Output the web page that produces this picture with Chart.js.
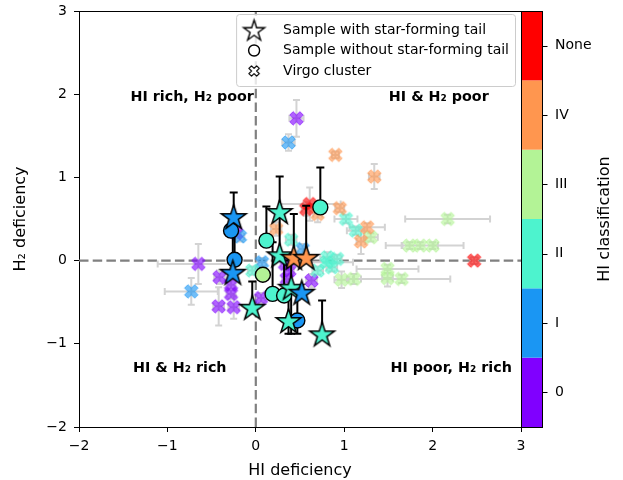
<!DOCTYPE html>
<html><head><meta charset="utf-8">
<script src="https://cdn.jsdelivr.net/npm/chart.js@4.4.1/dist/chart.umd.min.js"></script>
<style>html,body{margin:0;padding:0;background:#fff}canvas{display:block}</style>
</head><body>
<canvas id="c" width="623" height="480"></canvas>
<script>
// ---------- data ----------
const classLabels = ['0', 'I', 'II', 'III', 'IV', 'None'];
const classColors = ['#8000ff', '#1a96f3', '#4df3ce', '#b3f396', '#ff964f', '#ff0000'];
const xTicks = [-2, -1, 0, 1, 2, 3];
const yTicks = [-2, -1, 0, 1, 2, 3];

// sample with star-forming tail (stars)
const starX     = [-0.25, -0.26, 0.27, 0.27, 0.43, 0.57, -0.04, 0.40, 0.52, 0.37, 0.75];
const starY     = [0.53, -0.14, 0.59, 0.07, 0.04, 0.04, -0.56, -0.32, -0.38, -0.72, -0.88];
const starYLo   = [0.53, -0.14, 0.59, 0.07, 0.04, 0.04, -0.56, -0.88, -0.38, -0.88, -0.88];
const starYHi   = [0.82, 0.36, 1.01, 0.59, 0.56, 0.66, -0.25, 0.04, -0.38, -0.32, -0.48];
const starClass = [1, 1, 2, 2, 4, 4, 2, 2, 1, 2, 2];

// sample without star-forming tail (circles)
const circX     = [-0.28, -0.24, 0.12, 0.73, 0.08, 0.19, 0.32, 0.47];
const circY     = [0.36, 0.01, 0.24, 0.64, -0.17, -0.40, -0.42, -0.72];
const circYLo   = [0.36, 0.01, 0.24, 0.64, -0.17, -0.40, -0.42, -0.88];
const circYHi   = [0.53, 0.36, 0.65, 1.12, -0.17, 0.22, 0.00, -0.30];
const circClass = [1, 1, 2, 2, 3, 2, 2, 1];

// Virgo cluster (X markers)
const virgoX = [0.46, -0.65, -0.41, -0.28, -0.28, -0.42, -0.25, 0.06, 0.38, 0.33, 0.63, 0.35, -0.22,
                0.37, -0.18, -0.73, 0.07, 0.53,
                1.02, 1.13, 0.40, 0.81, 0.80, 0.86, 0.70, -0.04, 0.92,
                2.17, 1.74, 1.86, 2.00, 1.49, 1.49, 1.65, 0.97, 1.11, 1.30,
                0.90, 1.34, 0.70, 0.95, 1.26, 1.19, 0.23,
                0.61, 0.57, 2.47];
const virgoY = [1.71, -0.04, -0.20, -0.29, -0.40, -0.55, -0.56, -0.45, -0.12, -0.04, -0.24, -0.22, 0.33,
                1.42, 0.29, -0.37, -0.02, 0.14,
                0.50, 0.36, 0.25, 0.04, -0.02, -0.08, -0.12, -0.12, 0.02,
                0.50, 0.18, 0.18, 0.18, -0.10, -0.21, -0.22, -0.23, -0.22, 0.28,
                1.27, 1.01, 0.56, 0.63, 0.40, 0.23, 0.38,
                0.68, 0.62, 0.00];
const virgoXErr = [0.08, 0.46, 0.06, 0.05, 0.05, 0.06, 0.06, 0.05, 0.05, 0.05, 0.06, 0.05, 0.05,
                   0.07, 0.05, 0.30, 0.05, 0.05,
                   0.13, 0.10, 0.06, 0.08, 0.30, 0.06, 0.06, 0.05, 0.05,
                   0.48, 0.27, 0.20, 0.35, 0.35, 0.06, 0.55, 0.08, 0.08, 0.08,
                   0.04, 0.06, 0.05, 0.05, 0.20, 0.05, 0.06,
                   0.35, 0.05, 0.04];
const virgoYErr = [0.22, 0.24, 0.08, 0.06, 0.06, 0.23, 0.14, 0.06, 0.06, 0.06, 0.08, 0.06, 0.06,
                   0.10, 0.06, 0.16, 0.05, 0.06,
                   0.05, 0.05, 0.06, 0.06, 0.05, 0.05, 0.05, 0.05, 0.05,
                   0.05, 0.04, 0.04, 0.04, 0.05, 0.10, 0.05, 0.10, 0.06, 0.05,
                   0.04, 0.15, 0.10, 0.05, 0.05, 0.15, 0.08,
                   0.20, 0.08, 0.04];
const virgoClass = [0,0,0,0,0,0,0,0,0,0,0,0,0,
                    1,1,1,1,1,
                    2,2,2,2,2,2,2,2,2,
                    3,3,3,3,3,3,3,3,3,3,
                    4,4,4,4,4,4,4,
                    5,5,5];

const legendLabels = ['Sample with star-forming tail', 'Sample without star-forming tail', 'Virgo cluster'];
const quadrantNotes = [
  {x: -0.72, y: 1.96, text: 'HI rich, H\u2082 poor'},
  {x: 2.07,  y: 1.96, text: 'HI & H\u2082 poor'},
  {x: -0.86, y: -1.30, text: 'HI & H\u2082 rich'},
  {x: 2.21,  y: -1.30, text: 'HI poor, H\u2082 rich'}
];
const xTitle = 'HI deficiency';
const yTitle = 'H\u2082 deficiency';
const cbTitle = 'HI classification';

// ---------- marker images ----------
function starPath(g, R) {
  g.beginPath();
  for (let i = 0; i < 10; i++) {
    const r = i % 2 ? R * 0.382 : R;
    const a = -Math.PI / 2 + i * Math.PI / 5;
    g.lineTo(r * Math.cos(a), r * Math.sin(a));
  }
  g.closePath();
}
function starCanvas(fill, R, lw) {
  const s = Math.ceil(2 * R + 2 * lw + 4);
  const c = document.createElement('canvas'); c.width = s; c.height = s;
  const g = c.getContext('2d');
  g.translate(s / 2, s / 2 + R * 0.1);
  starPath(g, R);
  g.fillStyle = fill; g.fill();
  g.lineWidth = lw; g.strokeStyle = '#000'; g.lineJoin = 'miter'; g.stroke();
  return c;
}
function xPath(g, h) {
  const pts = [[-1,-3],[1,-3],[1,-1],[3,-1],[3,1],[1,1],[1,3],[-1,3],[-1,1],[-3,1],[-3,-1],[-1,-1]];
  const c = Math.SQRT1_2;
  g.beginPath();
  pts.forEach(p => {
    const px = p[0] * h / 3, py = p[1] * h / 3;
    g.lineTo(c * (px - py), c * (px + py));
  });
  g.closePath();
}
function xCanvas(fill, h, alpha, edge, lw) {
  const s = Math.ceil(2 * h + 2 * lw + 4);
  const c = document.createElement('canvas'); c.width = s; c.height = s;
  const g = c.getContext('2d');
  g.translate(s / 2, s / 2);
  xPath(g, h);
  g.globalAlpha = alpha;
  g.fillStyle = fill; g.fill();
  g.lineWidth = lw; g.strokeStyle = edge; g.lineJoin = 'round'; g.stroke();
  return c;
}
const starImgs = classColors.map(c => starCanvas(c, 13, 1.5));
const xImgs = classColors.map(c => xCanvas(c, 7.2, 0.62, c, 1));
const legendStar = starCanvas('#ffffff', 11, 1.4);
const legendX = xCanvas('#ffffff', 5.5, 1, '#000', 1.2);

const minus = v => (v < 0 ? '\u2212' + Math.abs(v) : String(v));

// ---------- plugins ----------
const decor = {
  id: 'decor',
  beforeDatasetsDraw(chart) {
    const {ctx, chartArea: a, scales: {x, y}} = chart;
    ctx.save();
    ctx.beginPath(); ctx.rect(a.left, a.top, a.right - a.left, a.bottom - a.top); ctx.clip();
    ctx.strokeStyle = '#808080'; ctx.lineWidth = 2.2; ctx.setLineDash([9.5, 4.2]);
    ctx.beginPath();
    ctx.moveTo(x.getPixelForValue(0), a.bottom); ctx.lineTo(x.getPixelForValue(0), a.top);
    ctx.moveTo(a.left, y.getPixelForValue(0)); ctx.lineTo(a.right, y.getPixelForValue(0));
    ctx.stroke();
    ctx.setLineDash([]);
    ctx.strokeStyle = '#d3d3d3'; ctx.lineWidth = 2;
    const cap = 3.5;
    ctx.beginPath();
    virgoX.forEach((vx, i) => {
      const vy = virgoY[i];
      const px = x.getPixelForValue(vx), py = y.getPixelForValue(vy);
      const xl = x.getPixelForValue(vx - virgoXErr[i]), xr = x.getPixelForValue(vx + virgoXErr[i]);
      const yb = y.getPixelForValue(vy - virgoYErr[i]), yt = y.getPixelForValue(vy + virgoYErr[i]);
      ctx.moveTo(xl, py); ctx.lineTo(xr, py);
      ctx.moveTo(xl, py - cap); ctx.lineTo(xl, py + cap);
      ctx.moveTo(xr, py - cap); ctx.lineTo(xr, py + cap);
      ctx.moveTo(px, yb); ctx.lineTo(px, yt);
      ctx.moveTo(px - cap, yb); ctx.lineTo(px + cap, yb);
      ctx.moveTo(px - cap, yt); ctx.lineTo(px + cap, yt);
    });
    ctx.stroke();
    ctx.restore();
  },
  afterDatasetDraw(chart, args) {
    if (args.index !== 2) return;
    const {ctx, scales: {x, y}} = chart;
    ctx.save();
    ctx.strokeStyle = '#000'; ctx.lineWidth = 2;
    const cap = 4;
    const draw = (xs, ys, lo, hi) => {
      xs.forEach((vx, i) => {
        const px = x.getPixelForValue(vx);
        const pl = y.getPixelForValue(lo[i]), ph = y.getPixelForValue(hi[i]);
        ctx.beginPath();
        ctx.moveTo(px, pl); ctx.lineTo(px, ph);
        if (hi[i] !== ys[i]) { ctx.moveTo(px - cap, ph); ctx.lineTo(px + cap, ph); }
        if (lo[i] !== ys[i]) { ctx.moveTo(px - cap, pl); ctx.lineTo(px + cap, pl); }
        ctx.stroke();
      });
    };
    draw(circX, circY, circYLo, circYHi);
    draw(starX, starY, starYLo, starYHi);
    ctx.restore();
  },
  afterDraw(chart) {
    const {ctx, chartArea: a, scales: {x, y, cb}} = chart;
    ctx.save();
    ctx.strokeStyle = '#000'; ctx.lineWidth = 1;
    ctx.beginPath(); ctx.moveTo(a.left, a.top + 0.5); ctx.lineTo(a.right, a.top + 0.5); ctx.stroke();
    ctx.fillStyle = '#000';
    ctx.font = 'bold 14.3px "DejaVu Sans"';
    ctx.textAlign = 'center'; ctx.textBaseline = 'middle';
    quadrantNotes.forEach(n => ctx.fillText(n.text, x.getPixelForValue(n.x), y.getPixelForValue(n.y)));
    const cbL = a.right, cbW = 21;
    classColors.forEach((c, k) => {
      const t = cb.getPixelForValue(k + 0.5), b = cb.getPixelForValue(k - 0.5);
      ctx.fillStyle = c;
      ctx.fillRect(cbL, t, cbW, b - t);
    });
    ctx.strokeStyle = '#000'; ctx.lineWidth = 1;
    ctx.strokeRect(cbL + 0.5, a.top + 0.5, cbW, a.bottom - a.top);
    ctx.beginPath();
    classLabels.forEach((_, k) => {
      const py = Math.round(cb.getPixelForValue(k)) + 0.5;
      ctx.moveTo(cbL + cbW + 0.5, py); ctx.lineTo(cbL + cbW + 5.5, py);
    });
    ctx.stroke();
    ctx.save();
    ctx.translate(605, (a.top + a.bottom) / 2);
    ctx.rotate(-Math.PI / 2);
    ctx.fillStyle = '#000';
    ctx.font = '16px "DejaVu Sans"';
    ctx.textAlign = 'center'; ctx.textBaseline = 'middle';
    ctx.fillText(cbTitle, 0, 0);
    ctx.restore();
    ctx.font = '14px "DejaVu Sans"';
    const tw = Math.max(...legendLabels.map(t => ctx.measureText(t).width));
    const bw = 47 + tw + 6, bh = 72;
    const br = a.right - 6, bt = a.top + 3, bl = br - bw;
    ctx.beginPath();
    ctx.roundRect(bl + 0.5, bt + 0.5, bw, bh, 3);
    ctx.fillStyle = 'rgba(255,255,255,0.8)'; ctx.fill();
    ctx.strokeStyle = '#cccccc'; ctx.lineWidth = 1; ctx.stroke();
    const rows = [bt + 16, bt + 36.5, bt + 57];
    ctx.drawImage(legendStar, bl + 18 - legendStar.width / 2, rows[0] - legendStar.height / 2);
    ctx.beginPath(); ctx.arc(bl + 18, rows[1], 5.5, 0, Math.PI * 2);
    ctx.fillStyle = '#fff'; ctx.fill(); ctx.strokeStyle = '#000'; ctx.lineWidth = 1.4; ctx.stroke();
    ctx.drawImage(legendX, bl + 18 - legendX.width / 2, rows[2] - legendX.height / 2);
    ctx.fillStyle = '#000'; ctx.textAlign = 'left'; ctx.textBaseline = 'middle';
    legendLabels.forEach((t, i) => ctx.fillText(t, bl + 47, rows[i]));
    ctx.restore();
  }
};

// ---------- chart ----------
Chart.defaults.font.family = '"DejaVu Sans"';
Chart.defaults.color = '#000';

const zeroPad = s => { s.paddingTop = 0; s.paddingBottom = 0; s.paddingLeft = 0; s.paddingRight = 0; };

new Chart(document.getElementById('c'), {
  type: 'scatter',
  data: {
    datasets: [
      {
        label: legendLabels[0],
        data: starX.map((v, i) => ({x: v, y: starY[i]})),
        pointStyle: ctx => starImgs[starClass[ctx.dataIndex]],
        pointRadius: 6
      },
      {
        label: legendLabels[1],
        data: circX.map((v, i) => ({x: v, y: circY[i]})),
        pointStyle: 'circle',
        pointRadius: 7.5,
        backgroundColor: ctx => classColors[circClass[ctx.dataIndex]],
        borderColor: '#000',
        borderWidth: 1.4
      },
      {
        label: legendLabels[2],
        data: virgoX.map((v, i) => ({x: v, y: virgoY[i]})),
        pointStyle: ctx => xImgs[virgoClass[ctx.dataIndex]],
        pointRadius: 6
      }
    ]
  },
  options: {
    responsive: false,
    animation: false,
    events: [],
    layout: {padding: {top: 11, left: 0, right: 0, bottom: 0}},
    plugins: {legend: {display: false}, tooltip: {enabled: false}},
    scales: {
      x: {
        type: 'linear', position: 'bottom', min: -2, max: 3,
        afterBuildTicks: s => { s.ticks = xTicks.map(v => ({value: v})); },
        afterFit: s => { s.height = 53; zeroPad(s); },
        ticks: {callback: v => minus(v), font: {size: 14}, padding: 6, maxRotation: 0},
        grid: {drawOnChartArea: false, color: '#000', tickLength: 5},
        border: {color: '#000', width: 1},
        title: {display: true, text: xTitle, font: {size: 16}, padding: {top: 0, bottom: 0}}
      },
      y: {
        type: 'linear', position: 'left', min: -2, max: 3,
        afterBuildTicks: s => { s.ticks = yTicks.map(v => ({value: v})); },
        afterFit: s => { s.width = 79; zeroPad(s); },
        ticks: {callback: v => minus(v), font: {size: 14}, padding: 7},
        grid: {drawOnChartArea: false, color: '#000', tickLength: 5},
        border: {color: '#000', width: 1},
        title: {display: true, text: yTitle, font: {size: 16}, padding: {top: 11, bottom: 0}}
      },
      cb: {
        type: 'linear', position: 'right', min: -0.5, max: 5.5,
        afterBuildTicks: s => { s.ticks = classLabels.map((_, i) => ({value: i})); },
        afterFit: s => { s.width = 102; zeroPad(s); },
        ticks: {callback: v => classLabels[v], font: {size: 14}, padding: 34},
        grid: {display: false, drawTicks: false},
        border: {display: false}
      }
    }
  },
  plugins: [decor]
});
</script>
</body></html>
